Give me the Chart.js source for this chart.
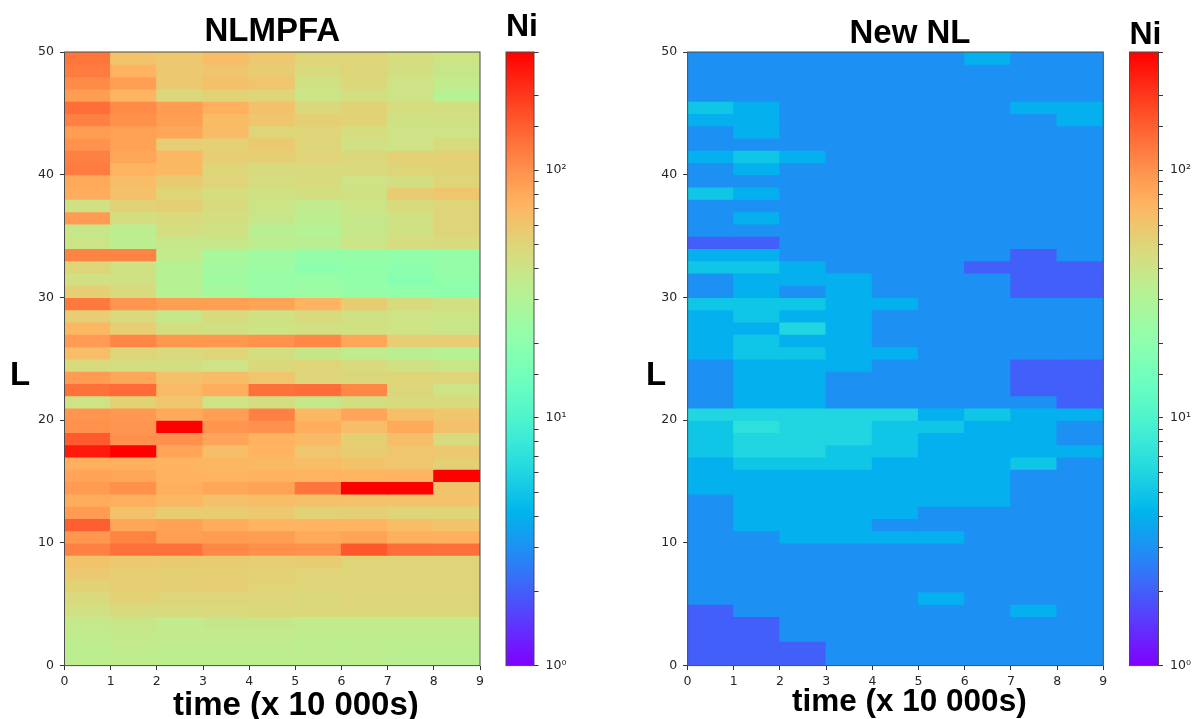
<!DOCTYPE html>
<html>
<head>
<meta charset="utf-8">
<script src="https://cdn.jsdelivr.net/npm/chart.js@4"></script>
<style>
html,body{margin:0;padding:0;background:#fff;width:1197px;height:719px;overflow:hidden;position:relative}
canvas{position:absolute;top:0}
.big{position:absolute;font-family:"Liberation Sans",Arial,sans-serif;font-weight:bold;color:#000;line-height:1;white-space:nowrap}
</style>
</head>
<body>
<canvas id="heatA" width="490" height="719" style="left:0;width:490px;height:719px"></canvas>
<canvas id="barA" width="106" height="719" style="left:470px;width:106px;height:719px"></canvas>
<canvas id="heatB" width="580" height="719" style="left:620px;width:580px;height:719px"></canvas>
<canvas id="barB" width="106" height="719" style="left:1090.5px;width:106px;height:719px"></canvas>
<div class="big" style="left:10px;top:357px;font-size:33px">L</div>
<div class="big" style="left:646px;top:357px;font-size:33px">L</div>
<div class="big" style="left:173px;top:687px;font-size:33px">time (x 10 000s)</div>
<div class="big" style="left:792px;top:685px;font-size:31.5px">time (x 10 000s)</div>
<script>
const titleA = 'NLMPFA';
const titleB = 'New NL';
const barTitle = 'Ni';
const colorRange = [1, 300];
const timeStarts = [0, 1, 2, 3, 4, 5, 6, 7, 8];
const timeEnd = 9;
const lMax = 50;
const decadeLabels = {1: '10\u2070', 10: '10\u00B9', 100: '10\u00B2'};

// rows run from L = 49-50 (first) down to L = 0-1 (last)
const nlmpfaRows = [
[125,62,58,66,58,50,50,45,41],
[120,74,58,60,56,47,50,44,38],
[105,88,58,64,60,42,48,41,36],
[90,72,48,52,50,40,44,41,32],
[135,105,92,76,63,48,52,45,44],
[115,100,88,67,60,54,52,42,43],
[90,87,83,67,50,50,45,41,41],
[98,86,55,53,58,50,42,41,46],
[115,82,70,55,54,51,48,53,53],
[120,72,69,50,46,47,47,50,52],
[80,66,57,51,45,46,41,44,50],
[78,64,50,45,42,44,42,56,60],
[42,52,54,46,40,36,40,47,50],
[92,44,46,44,38,34,38,42,50],
[38,34,44,42,33,31,38,42,50],
[40,34,38,38,34,33,40,45,46],
[112,112,36,28,25,22,22,21,22],
[50,42,32,26,24,20,21,20,22],
[43,42,32,25,23,23,21,19,21],
[54,46,32,26,23,24,22,21,20],
[122,97,88,88,85,72,56,46,43],
[55,47,38,46,42,47,42,41,40],
[70,55,44,43,41,43,42,41,39],
[92,110,95,95,100,108,82,55,55],
[66,50,47,50,44,38,35,33,32],
[46,44,44,41,48,50,47,42,39],
[92,82,63,67,60,50,49,50,50],
[130,138,68,77,130,135,108,49,41],
[41,52,60,41,44,38,44,47,47],
[97,94,80,88,115,70,84,65,60],
[100,96,300,97,100,77,65,80,64],
[155,100,100,84,74,68,54,65,46],
[250,300,84,65,72,60,56,60,58],
[75,75,72,70,68,66,62,60,54],
[84,82,74,72,74,72,72,72,300],
[92,100,76,82,85,125,300,300,62],
[78,76,70,64,66,64,62,62,62],
[92,64,56,56,58,52,54,50,50],
[150,82,86,78,72,72,72,66,62],
[95,112,88,92,90,80,84,75,75],
[115,130,130,108,102,100,160,135,132],
[62,58,57,56,55,56,50,50,50],
[58,55,54,54,53,51,50,50,50],
[52,55,54,55,51,50,50,50,50],
[47,52,50,50,50,48,50,50,50],
[43,46,46,47,48,48,49,49,49],
[37,39,36,38,38,36,36,36,36],
[36,37,36,36,36,35,35,35,35],
[34,36,35,35,35,34,34,34,34],
[34,35,34,34,34,34,34,33,33]
];
const newNlRows = [
[3,3,3,3,3,3,4,3,3],
[3,3,3,3,3,3,3,3,3],
[3,3,3,3,3,3,3,3,3],
[3,3,3,3,3,3,3,3,3],
[5,4,3,3,3,3,3,4,4],
[4,4,3,3,3,3,3,3,4],
[3,4,3,3,3,3,3,3,3],
[3,3,3,3,3,3,3,3,3],
[4,5,4,3,3,3,3,3,3],
[3,4,3,3,3,3,3,3,3],
[3,3,3,3,3,3,3,3,3],
[5,4,3,3,3,3,3,3,3],
[3,3,3,3,3,3,3,3,3],
[3,4,3,3,3,3,3,3,3],
[3,3,3,3,3,3,3,3,3],
[2,2,3,3,3,3,3,3,3],
[4,4,3,3,3,3,3,2,3],
[5,5,4,3,3,3,2,2,2],
[3,4,4,4,3,3,3,2,2],
[3,4,3,4,3,3,3,2,2],
[5,5,5,4,4,3,3,3,3],
[4,5,4,4,3,3,3,3,3],
[4,4,6,4,3,3,3,3,3],
[4,5,4,4,3,3,3,3,3],
[4,5,5,4,4,3,3,3,3],
[3,4,4,4,3,3,3,2,2],
[3,4,4,3,3,3,3,2,2],
[3,4,4,3,3,3,3,2,2],
[3,4,4,3,3,3,3,3,2],
[6,6,6,6,6,4,5,4,4],
[5,7,6,6,5,5,4,4,3],
[5,6,6,6,5,4,4,4,3],
[5,6,6,5,5,4,4,4,4],
[4,5,5,5,4,4,4,5,3],
[4,4,4,4,4,4,4,3,3],
[4,4,4,4,4,4,4,3,3],
[3,4,4,4,4,4,4,3,3],
[3,4,4,4,4,3,3,3,3],
[3,4,4,4,3,3,3,3,3],
[3,3,4,4,4,4,3,3,3],
[3,3,3,3,3,3,3,3,3],
[3,3,3,3,3,3,3,3,3],
[3,3,3,3,3,3,3,3,3],
[3,3,3,3,3,3,3,3,3],
[3,3,3,3,3,4,3,3,3],
[2,3,3,3,3,3,3,4,3],
[2,2,3,3,3,3,3,3,3],
[2,2,3,3,3,3,3,3,3],
[2,2,2,3,3,3,3,3,3],
[2,2,2,3,3,3,3,3,3]
];

function rainbow(t) {
  const c = v => Math.round(255 * Math.min(1, Math.max(0, v)));
  return 'rgb(' + c(Math.abs(2 * t - 0.5)) + ',' + c(Math.sin(Math.PI * t)) + ',' + c(Math.cos(Math.PI * t / 2)) + ')';
}
function colorOf(v) {
  return rainbow(Math.log(v / colorRange[0]) / Math.log(colorRange[1] / colorRange[0]));
}

const frame = {
  id: 'frame',
  afterDraw(chart) {
    const a = chart.chartArea, g = chart.ctx;
    g.save();
    g.strokeStyle = '#4a4a4a';
    g.lineWidth = 1;
    g.strokeRect(a.left, a.top, a.right - a.left, a.bottom - a.top);
    g.restore();
  }
};

const tickFont = {family: '"DejaVu Sans"', size: 12.5};
const tickColor = '#262626';
const bottomGap = 53.4;

function heatmap(id, rows, title, fontSize, padTop, padBottom, axisWidth, spareRight, titleOverCanvas) {
  const datasets = rows.map((row, i) => ({
    data: row.map((v, c) => ({x: timeStarts[c] + 0.5, y: [lMax - 1 - i, lMax - i]})),
    backgroundColor: row.map(colorOf),
    borderWidth: 0,
    inflateAmount: 0.6,
    barPercentage: 1,
    categoryPercentage: 1,
    grouped: false
  }));
  const scales = {
    x: {
      type: 'linear', min: timeStarts[0], max: timeEnd, offset: false,
      grid: {offset: false, drawOnChartArea: false, drawTicks: true, tickLength: 4.5, color: '#333'},
      border: {display: false},
      ticks: {stepSize: 1, font: tickFont, color: tickColor, padding: 4, maxRotation: 0, autoSkip: false},
      afterFit(s) { s.height = bottomGap; }
    },
    y: {
      type: 'linear', min: 0, max: lMax,
      grid: {drawOnChartArea: false, drawTicks: true, tickLength: 4.5, color: '#333'},
      border: {display: false},
      ticks: {stepSize: 10, font: tickFont, color: tickColor, padding: 6},
      afterFit(s) { s.width = axisWidth; }
    },
    // empty right-hand axis: fixes the plot's right edge and the room a title is centred over
    spare: {
      type: 'linear', position: 'right', min: 0, max: 1,
      grid: {display: false}, border: {display: false}, ticks: {display: false},
      afterFit(s) { s.width = spareRight; }
    }
  };
  return new Chart(document.getElementById(id), {
    type: 'bar',
    data: {datasets},
    plugins: [frame],
    options: {
      responsive: false,
      animation: false,
      layout: {padding: 0},
      plugins: {
        legend: {display: false},
        tooltip: {enabled: false},
        title: {
          display: true, text: title, color: '#000', fullSize: titleOverCanvas,
          font: {family: '"Liberation Sans"', weight: 'bold', size: fontSize, lineHeight: 1},
          padding: {top: padTop, bottom: padBottom}
        }
      },
      scales
    }
  });
}

function colorbar(id, padLeft, axisWidth, padTop, padBottom) {
  return new Chart(document.getElementById(id), {
    type: 'bar',
    data: {
      labels: [barTitle],
      datasets: [{
        data: [colorRange],
        borderWidth: 0,
        barPercentage: 1,
        categoryPercentage: 1,
        backgroundColor(ctx) {
          const a = ctx.chart.chartArea;
          if (!a) return 'transparent';
          const g = ctx.chart.ctx.createLinearGradient(0, a.bottom, 0, a.top);
          for (let i = 0; i <= 60; i++) g.addColorStop(i / 60, rainbow(i / 60));
          return g;
        }
      }]
    },
    plugins: [frame],
    options: {
      responsive: false,
      animation: false,
      layout: {padding: {left: padLeft, right: 0, top: 0, bottom: bottomGap}},
      plugins: {
        legend: {display: false},
        tooltip: {enabled: false},
        title: {
          display: true, text: barTitle, color: '#000', align: 'start',
          font: {family: '"Liberation Sans"', weight: 'bold', size: 32, lineHeight: 1},
          padding: {top: padTop, bottom: padBottom}
        }
      },
      scales: {
        x: {type: 'category', display: false},
        y: {
          type: 'logarithmic', position: 'right', min: colorRange[0], max: colorRange[1],
          grid: {drawOnChartArea: false, drawTicks: true, tickLength: 4.5, color: '#333'},
          border: {display: false},
          ticks: {
            font: tickFont, color: tickColor, padding: 7, autoSkip: false,
            callback: v => decadeLabels[v] || ''
          },
          afterFit(s) { s.width = axisWidth; }
        }
      }
    }
  });
}

heatmap('heatA', nlmpfaRows, titleA, 33, 15, 4, 64.5, 10, false);
colorbar('barA', 36, 42, 11.5, 8.5);
heatmap('heatB', newNlRows, titleB, 33, 17, 2, 67.6, 96.7, true);
colorbar('barB', 38.5, 38.5, 19, 1);
</script>
</body>
</html>
